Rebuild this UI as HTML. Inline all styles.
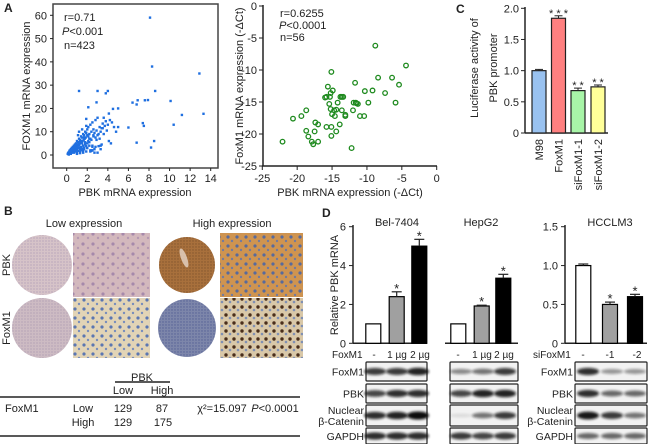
<!DOCTYPE html>
<html><head><meta charset="utf-8"><style>
html,body{margin:0;padding:0;background:#fff;}
svg{display:block;font-family:"Liberation Sans",sans-serif;}
text{fill:#222;}
</style></head><body>
<svg id="fig" width="650" height="444" viewBox="0 0 650 444">
<defs>
<filter id="blur1" x="-20%" y="-50%" width="140%" height="200%"><feGaussianBlur stdDeviation="1.2"/></filter>
<pattern id="cellsBlue" width="9" height="9" patternUnits="userSpaceOnUse"><circle cx="3" cy="3" r="1.6" fill="#3a5fb0" opacity="0.8"/><circle cx="7" cy="7" r="1.2" fill="#4a6fc0" opacity="0.7"/></pattern>
<pattern id="cellsBrown" width="8" height="8" patternUnits="userSpaceOnUse"><circle cx="2" cy="3" r="1.7" fill="#3a1d0c" opacity="0.9"/><circle cx="6" cy="6" r="1.3" fill="#5a78b8" opacity="0.7"/></pattern>
<pattern id="cellsPink" width="10" height="10" patternUnits="userSpaceOnUse"><circle cx="3" cy="4" r="1.6" fill="#7a5a9a" opacity="0.5"/><circle cx="8" cy="8" r="1.2" fill="#8a6aa0" opacity="0.4"/></pattern>
<pattern id="dotsFine" width="3" height="3" patternUnits="userSpaceOnUse"><circle cx="1" cy="1" r="0.6" fill="#7a6a9a" opacity="0.5"/></pattern>
<pattern id="dotsFineB" width="3" height="3" patternUnits="userSpaceOnUse"><circle cx="1" cy="1" r="0.7" fill="#5a3a20" opacity="0.5"/></pattern>
<pattern id="dotsFineC" width="3" height="3" patternUnits="userSpaceOnUse"><circle cx="1" cy="1" r="0.7" fill="#2a3a80" opacity="0.5"/></pattern>
</defs>
<g id="root"></g>
</svg>
<script>
// ---------- DATA ----------
const scatter1X = [8.1,8.3,12.9,13.3,11.2,10.1,10.4,8.6,8.5,8.2,6.8,6.0,6.4,6.8,6.9,7.4,7.5,7.6,7.9,1.2,3.0,4.0,3.8,2.9,2.1,4.1,4.5,5.0,3.5,4.3,4.8,5.0,3.0,2.5,
 0.1,0.15,0.2,0.25,0.3,0.3,0.35,0.4,0.4,0.45,0.5,0.5,0.55,0.6,0.6,0.65,0.7,0.7,0.75,0.8,0.8,0.85,0.9,0.9,0.95,1.0,1.0,1.05,1.1,1.1,1.15,1.2,1.2,1.25,1.3,1.3,1.35,1.4,1.4,1.45,1.5,1.5,1.55,1.6,1.6,1.65,1.7,1.7,1.75,1.8,1.8,1.85,1.9,1.9,2.0,2.0,2.1,2.1,2.2,2.2,2.3,2.3,2.4,2.4,2.5,2.5,2.6,2.6,2.7,2.8,2.8,2.9,3.0,3.0,3.1,3.2,3.2,3.3,3.4,3.5,3.6,3.7,3.8,3.9,4.0,4.2,4.4,4.6,1.0,1.3,1.6,2.0,2.4,2.7,3.1,3.4,0.6,0.9,1.2,1.5,1.8,2.2,2.6,0.3,0.5,0.8,1.1,1.4,1.7,2.0,0.2,0.4,0.7,1.0,1.3,1.6,1.9,2.3,2.8,3.3,
 0.5,0.9,1.3,1.7,2.1,2.5,2.9,3.3,0.4,0.8,1.2,1.6,2.0,2.4,0.6,1.0,1.4,1.8,2.2,1.1,1.5,1.9,2.3,2.7,3.6,4.1,0.3,0.7,1.2,1.9];
const scatter1Y = [59,38,35,17.7,17.2,23.2,13,27.5,6,3.2,5.3,11.8,22.5,21.7,23.5,13.7,12.5,23.5,23.6,27.5,27.5,27.5,26.5,22.6,20.5,17.8,19.8,20,11.5,5,10,12,1,2,
 0.5,1.0,0.3,1.5,0.8,2.0,1.2,0.6,2.5,1.8,1.0,3.0,2.2,1.5,3.5,2.8,1.2,4.0,3.0,2.0,4.5,3.5,1.5,5.0,4.0,2.5,6.0,3.2,1.8,5.5,4.2,3.0,7.0,4.8,2.5,6.5,5.2,3.5,8.0,5.8,2.8,7.5,6.0,4.0,9.0,6.5,3.2,8.5,7.0,4.5,10.0,7.5,3.8,9.5,5.0,11.0,6.0,12.0,5.5,9.0,7.0,13.0,6.5,10.0,4.0,14.0,8.0,11.0,9.5,7.5,15.0,10.5,8.5,16.0,9.0,12.0,7.0,10.0,11.5,13.5,9.0,12.5,14.5,10.5,13.0,15.0,14.0,12.0,0.8,1.5,2.2,3.0,1.8,2.5,3.8,4.5,2.0,3.0,4.0,5.0,5.5,7.0,8.5,1.5,2.5,3.5,4.5,6.0,7.5,8.5,0.2,0.5,1.0,0.5,0.8,1.0,1.5,2.0,3.5,4.0,
 3.0,4.5,6.0,2.5,8.0,3.5,6.5,2.5,1.8,2.2,5.0,2.0,3.0,2.0,2.8,1.8,2.0,5.0,4.0,8.5,11.0,12.5,1.5,1.0,16.0,6.0,1.5,2.0,10.0,15.5];
const scatter2X = [-22.1,-20.6,-19.4,-18.7,-18.7,-18.4,-17.9,-17.7,-17.5,-17.4,-17.0,-17.0,-15.8,-15.8,-15.6,-15.4,-15.2,-15.1,-15.3,-15.2,-15.0,-15.1,-15.1,-14.9,-14.7,-14.6,-14.4,-14.4,-14.2,-13.9,-13.8,-13.6,-13.4,-13.6,-13.1,-13.1,-12.2,-12.0,-11.9,-11.7,-11.6,-11.3,-11.0,-10.4,-10.3,-9.8,-9.2,-8.8,-8.4,-7.4,-6.4,-5.9,-5.4,-4.4,-16.0,-11.5];
const scatter2Y = [-21.2,-17.6,-17.2,-16.3,-19.5,-20.4,-21.2,-21.6,-19.6,-18.2,-18.5,-21.2,-18.9,-14.2,-12.6,-15.3,-13.6,-10.3,-14.2,-16.1,-16.9,-18.9,-20.3,-13.2,-16.3,-17.2,-16.2,-19.6,-15.1,-18.5,-14.2,-14.2,-14.2,-16.3,-17.0,-17.2,-22.2,-16.3,-15.1,-12.0,-15.1,-15.3,-17.2,-17.2,-13.3,-15.1,-13.2,-6.2,-11.2,-13.6,-11.2,-15.1,-12.3,-9.3,-14.3,-15.2];
const lucCats = ["M98","FoxM1","siFoxM1-1","siFoxM1-2"];
const lucVals = [1.0,1.84,0.68,0.74];
const lucErr = [0.02,0.04,0.04,0.03];
const lucSig = ["","***","**","**"];
const lucColors = ["#99c2f0","#ff8080","#a8f5a8","#ffff99"];
const belVals = [1.0,2.4,5.0];
const belErr = [0.0,0.25,0.35];
const hepVals = [1.0,1.92,3.35];
const hepErr = [0.0,0.04,0.2];
const hccVals = [1.0,0.5,0.6];
const hccErr = [0.02,0.03,0.03];
const barSig = ["","*","*"];
const barFills = ["#ffffff","#a0a0a0","#000000"];
const s1XTicks = [0,2,4,6,8,10,12,14];
const s1YTicks = [0,10,20,30,40,50,60];
const s2XTicks = [-25,-20,-15,-10,-5,0];
const s2YTicks = [0,-5,-10,-15,-20,-25];
const lucTicks = [0,0.5,1.0,1.5,2.0];
const dTicks = [0,2,4,6];
const hccTicks = [0,0.5,1.0,1.5];

// ---------- helpers ----------
const NS="http://www.w3.org/2000/svg";
const root=document.getElementById('root');
function mk(tag,attrs,parent,txt){const e=document.createElementNS(NS,tag);for(const k in attrs)e.setAttribute(k,attrs[k]);if(txt!==undefined)e.textContent=txt;(parent||root).appendChild(e);return e;}
function lin(d0,d1,p0,p1){return v=>p0+(v-d0)*(p1-p0)/(d1-d0);}
function T(x,y,s,size,anchor,name,extra){const a={x:x,y:y,'font-size':size||11,'text-anchor':anchor||'start'};if(extra)for(const k in extra)a[k]=extra[k];const t=mk('text',a,null,s);return t;}
function L(x1,y1,x2,y2,w,name){const l=mk('line',{x1:x1,y1:y1,x2:x2,y2:y2,stroke:'#222','stroke-width':w||1});return l;}

// panel labels
T(4,12,"A",12,'start','panel-a-label',{'font-weight':'bold'});
T(456,13,"C",12,'start','panel-c-label',{'font-weight':'bold'});
T(4,215,"B",12,'start','panel-b-label',{'font-weight':'bold'});
T(322,217,"D",12,'start','panel-d-label',{'font-weight':'bold'});

// ---------- Scatter 1 ----------
{
const sx=lin(0,14,66.7,210.7), sy=lin(0,60,155,15.3);
const box=mk('rect',{x:53,y:4,width:165,height:164,fill:'none',stroke:'#444','stroke-width':1.5});

s1YTicks.forEach(v=>{L(50,sy(v),53,sy(v),1,'s1-ytick');T(47,sy(v)+4,String(v),11,'end','s1-ytick-label');});
s1XTicks.forEach(v=>{L(sx(v),168,sx(v),171,1,'s1-xtick');T(sx(v),182,String(v),11,'middle','s1-xtick-label');});
scatter1X.forEach((x,i)=>{const c=mk('rect',{x:sx(x)-1.2,y:sy(scatter1Y[i])-1.2,width:2.4,height:2.4,fill:'#1f6fe0'});
});
T(135,196,"PBK mRNA expression",11,'middle','s1-x-title');
T(0,0,"FOXM1 mRNA expression",11,'middle','s1-y-title',{transform:'translate(30,86) rotate(-90)'});
T(64,21,"r=0.71",11,'start','s1-r');
const p=T(62,35,"",11,'start','s1-p');mk('tspan',{'font-style':'italic'},p,"P");mk('tspan',{},p,"<0.001");
T(64,49,"n=423",11,'start','s1-n');
}
// ---------- Scatter 2 ----------
{
const sx=lin(-25,0,262.3,436.7), sy=lin(0,-25,6,166);
L(263,5,263,166,1.5,'s2-y-axis');L(262,166,437,166,1.5,'s2-x-axis');
s2YTicks.forEach(v=>{L(259,sy(v),263,sy(v),1,'s2-ytick');T(257,sy(v)+4,String(v),11,'end','s2-ytick-label');});
s2XTicks.forEach(v=>{L(sx(v),166,sx(v),170,1,'s2-xtick');T(sx(v),182,String(v),11,'middle','s2-xtick-label');});
scatter2X.forEach((x,i)=>{const c=mk('circle',{cx:sx(x),cy:sy(scatter2Y[i]),r:2.3,fill:'none',stroke:'#1e8a1e','stroke-width':1.3});
});
T(350,196,"PBK mRNA expression (-\u0394Ct)",11,'middle','s2-x-title');
T(0,0,"FoxM1 mRNA expression (-\u0394Ct)",11,'middle','s2-y-title',{transform:'translate(243,86) rotate(-90)'});
T(280,17,"r=0.6255",11,'start','s2-r');
const p=T(279,29,"",11,'start','s2-p');mk('tspan',{'font-style':'italic'},p,"P");mk('tspan',{},p,"<0.0001");
T(280,41,"n=56",11,'start','s2-n');
}
// ---------- Panel C ----------
{
const sy=lin(0,2,133,8.3); const bx=[539,558.5,578,598]; const bw=14;
L(525,7,525,133,1.5,'c-y-axis');L(525,133,608,133,1.5,'c-x-axis');
lucTicks.forEach(v=>{L(521,sy(v),525,sy(v),1,'c-ytick');T(519,sy(v)+4,v===0?"0":v.toFixed(1),11,'end','c-ytick-label');});
lucVals.forEach((v,i)=>{const r=mk('rect',{x:bx[i]-bw/2,y:sy(v),width:bw,height:133-sy(v),fill:lucColors[i],stroke:'#222','stroke-width':1.2});

L(bx[i],sy(v),bx[i],sy(v+lucErr[i]),1,'luc-errbar');L(bx[i]-4,sy(v+lucErr[i]),bx[i]+4,sy(v+lucErr[i]),1,'luc-errcap');
if(lucSig[i])T(bx[i],sy(v+lucErr[i])+1,lucSig[i].split('').join(' '),11,'middle','luc-sig');
T(0,0,lucCats[i],11,'end','luc-cat-label',{transform:`translate(${bx[i]+4},139) rotate(-90)`});});
T(0,0,"Luciferase activity of",11,'middle','c-y-title1',{transform:'translate(478,68) rotate(-90)'});
T(0,0,"PBK promoter",11,'middle','c-y-title2',{transform:'translate(497,68) rotate(-90)'});
}
// ---------- Panel D ----------
{
const sy=lin(0,6,343.3,226.7), sh=lin(0,1.5,343.3,226.7); const bw=15;
function group(xs,vals,errs,scale,name){vals.forEach((v,i)=>{const r=mk('rect',{x:xs[i]-bw/2,y:scale(v),width:bw,height:343.3-scale(v),fill:barFills[i],stroke:'#000','stroke-width':1.2});

if(errs[i]>0){L(xs[i],scale(v),xs[i],scale(v+errs[i]),1.2,name+'-errbar');L(xs[i]-5,scale(v+errs[i]),xs[i]+5,scale(v+errs[i]),1.2,name+'-errcap');}
if(barSig[i])T(xs[i],scale(v+errs[i])+1,barSig[i],13,'middle',name+'-sig');});}
L(353,225,353,343.3,1.5,'d-y-axis');L(353,343.3,427,343.3,1.5,'d-x-axis-bel');L(445,343.3,518,343.3,1.5,'d-x-axis-hep');
dTicks.forEach(v=>{L(349,sy(v),353,sy(v),1,'d-ytick');T(346,sy(v)+4,String(v),11,'end','d-ytick-label');});
group([373.3,396.7,419.3],belVals,belErr,sy,'bel');
group([458.3,481.7,503.3],hepVals,hepErr,sy,'hep');
L(565,225,565,343.3,1.5,'hcc-y-axis');L(565,343.3,647,343.3,1.5,'hcc-x-axis');
hccTicks.forEach(v=>{L(561,sh(v),565,sh(v),1,'hcc-ytick');T(558,sh(v)+4,v===0?"0":v.toFixed(1),11,'end','hcc-ytick-label');});
group([583.3,610,635],hccVals,hccErr,sh,'hcc');
T(397,226,"Bel-7404",11,'middle','bel-title');T(481,226,"HepG2",11,'middle','hep-title');T(610,226,"HCCLM3",11,'middle','hcc-title');
T(0,0,"Relative PBK mRNA",11,'middle','d-y-title',{transform:'translate(338,285) rotate(-90)'});
T(332,358,"FoxM1",10,'start','foxm1-row-label');
["-","1 \u00b5g","2 \u00b5g"].forEach((s,i)=>T([374,397,420][i],358,s,10,'middle','bel-dose'));
["-","1 \u00b5g","2 \u00b5g"].forEach((s,i)=>T([458,482,504][i],358,s,10,'middle','hep-dose'));
T(533,358,"siFoxM1",10,'start','sifoxm1-row-label');
["-","-1","-2"].forEach((s,i)=>T([583,610,637][i],358,s,10,'middle','hcc-si'));
const rows=[[362,19],[384,19],[405,21],[428,16]];
const labs=[["FoxM1"],["PBK"],["Nuclear","\u03b2-Catenin"],["GAPDH"]];
const bands={bel:[[0.8,0.8,0.9],[0.75,0.85,0.85],[0.85,0.9,1.0],[0.85,0.85,0.85]],
 hep:[[0.45,0.55,0.8],[0.75,0.9,0.9],[0.1,0.55,0.8],[0.8,0.75,0.8]],
 hcc:[[0.85,0.4,0.4],[0.85,0.6,0.6],[0.95,0.8,0.55],[0.6,0.6,0.6]]};
function blot(x0,x1,lanes,key){rows.forEach((r,ri)=>{const b=mk('rect',{x:x0,y:r[0],width:x1-x0,height:r[1],fill:'#f2f2f2',stroke:'#222','stroke-width':1.2,rx:1});

lanes.forEach((lx,li)=>{const a=bands[key][ri][li];const e=mk('ellipse',{cx:lx,cy:r[0]+r[1]/2,rx:11,ry:1.5+2.5*a,fill:'#111',opacity:a,filter:'url(#blur1)'});
});});}
blot(366,427,[375,397,418],'bel');blot(450,518,[461,483,505],'hep');blot(575,647,[588,612,635],'hcc');
rows.forEach((r,ri)=>{const l=labs[ri];
 if(l.length===1){T(364,r[0]+r[1]/2+4,l[0],10.5,'end','bel-blot-label');T(573,r[0]+r[1]/2+4,l[0],10.5,'end','hcc-blot-label');}
 else{T(364,r[0]+9,l[0],10.5,'end','bel-blot-label');T(364,r[0]+20,l[1],10.5,'end','bel-blot-label');T(573,r[0]+9,l[0],10.5,'end','hcc-blot-label');T(573,r[0]+20,l[1],10.5,'end','hcc-blot-label');}});
}
// ---------- Panel B images ----------
{
T(84,227,"Low  expression",11,'middle','low-expression-title');
T(232,227,"High expression",11,'middle','high-expression-title');
T(0,0,"PBK",11,'middle','b-pbk-label',{transform:'translate(10,265) rotate(-90)'});
T(0,0,"FoxM1",11,'middle','b-foxm1-label',{transform:'translate(10,328) rotate(-90)'});
function circ(cx,cy,r,fill,pat,name){const c=mk('circle',{cx:cx,cy:cy,r:r,fill:fill});
 const c2=mk('circle',{cx:cx,cy:cy,r:r,fill:'url(#'+pat+')'});}
function sq(x,y,w,h,fill,pat,name){const r=mk('rect',{x:x,y:y,width:w,height:h,fill:fill});
 const r2=mk('rect',{x:x,y:y,width:w,height:h,fill:'url(#'+pat+')'});}
circ(42,265,30,'#d6c3c8','dotsFine','pbk-low-core');
sq(73,233,77,64,'#d3b8bd','cellsPink','pbk-low-micro');
circ(187,265,28,'#a8703c','dotsFineB','pbk-high-core');
const v=mk('ellipse',{cx:184,cy:258,rx:3,ry:10,fill:'#e6d6c8',opacity:0.8,transform:'rotate(-20 184 258)'});
sq(220,233,83,64,'#cf9450','cellsBlue','pbk-high-micro');
circ(42,328,30,'#cdbbc3','dotsFine','foxm1-low-core');
sq(73,298,77,60,'#e2d4b6','cellsBlue','foxm1-low-micro');
circ(187,328,29,'#7d86aa','dotsFineC','foxm1-high-core');
sq(220,298,83,60,'#d9c8a8','cellsBrown','foxm1-high-micro');
}
// ---------- Panel B table ----------
{
T(142,381,"PBK",11,'middle','table-pbk-header');L(115,382,170,382,1.5,'table-pbk-underline');
T(123,394,"Low",11,'middle','table-low-col');T(162,394,"High",11,'middle','table-high-col');
L(0,397,300,397,1.5,'table-header-line');
T(5,412,"FoxM1",11,'start','table-foxm1-label');
T(83,412,"Low",11,'middle','table-row-low');T(123,412,"129",11,'middle','cell-low-low');T(162,412,"87",11,'middle','cell-low-high');
T(222,412,"\u03c7\u00b2=15.097",11,'middle','table-chi-square');
const p=T(275,412,"",11,'middle','table-p-value');mk('tspan',{'font-style':'italic'},p,"P");mk('tspan',{},p,"<0.0001");
T(83,426,"High",11,'middle','table-row-high');T(123,426,"129",11,'middle','cell-high-low');T(163,426,"175",11,'middle','cell-high-high');
L(0,436,300,436,1.5,'table-bottom-line');
}
</script>
</body></html>
